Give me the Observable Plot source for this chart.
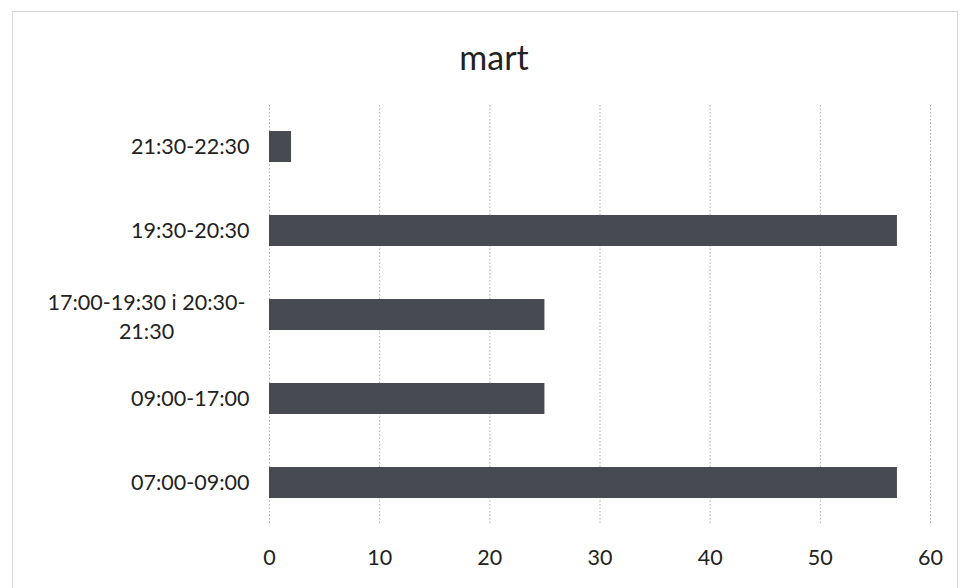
<!DOCTYPE html>
<html><head><meta charset="utf-8">
<script src="https://cdn.jsdelivr.net/npm/d3@7"></script>
<script src="https://cdn.jsdelivr.net/npm/@observablehq/plot@0.6"></script>
<style>
body{margin:0;background:#fff;}
#wrap{position:relative;width:964px;height:588px;overflow:hidden;font-family:Lato,sans-serif;background:#fff;}
#frame{position:absolute;left:12px;top:11px;width:946px;height:600px;border:1px solid #d6d6d6;box-sizing:border-box;pointer-events:none;}
#title{position:absolute;left:0;width:988px;top:40px;line-height:34px;text-align:center;font-size:34px;color:#222;}
#chart{position:absolute;left:0;top:0;}
</style>
</head><body>
<div id="wrap"><div id="frame"></div><div id="chart"></div><div id="title">mart</div></div>
<script>
const categories = ["21:30-22:30", "19:30-20:30", "17:00-19:30 i 20:30-21:30", "09:00-17:00", "07:00-09:00"];
const categoryLabels = ["21:30-22:30", "19:30-20:30", "17:00-19:30 i 20:30-\n21:30", "09:00-17:00", "07:00-09:00"];
const values = [2, 57, 25, 25, 57];
const xTicks = [0, 10, 20, 30, 40, 50, 60];

const data = categories.map((c, i) => ({category: c, value: values[i]}));
const labelOf = c => categoryLabels[categories.indexOf(c)];
const singleLine = categories.filter(c => !labelOf(c).includes("\n"));
const multiLine = categories.filter(c => labelOf(c).includes("\n"));

const chart = Plot.plot({
  width: 964,
  height: 588,
  marginLeft: 269,
  marginRight: 34,
  marginTop: 105,
  marginBottom: 63,
  style: {fontFamily: "Lato, sans-serif", fontSize: "21.5px", color: "#222", background: "transparent", overflow: "visible"},
  x: {domain: [0, 60], ticks: xTicks, label: null},
  y: {domain: categories, paddingInner: 0.63, paddingOuter: 0.315, label: null},
  marks: [
    Plot.gridX(xTicks, {stroke: "#8a8a8a", strokeOpacity: 0.7, strokeDasharray: "1.5,2"}),
    Plot.barX(data, {x: "value", y: "category", fill: "#474b51"}),
    Plot.axisX(xTicks, {tickSize: 0, tickPadding: 24, label: null}),
    Plot.axisY(singleLine, {tickSize: 0, tickPadding: 20, label: null, tickFormat: labelOf}),
    Plot.axisY(multiLine, {tickSize: 0, tickPadding: 123, textAnchor: "middle", lineHeight: 1.38, label: null, tickFormat: labelOf})
  ]
});
document.getElementById("chart").appendChild(chart);
</script>
</body></html>
